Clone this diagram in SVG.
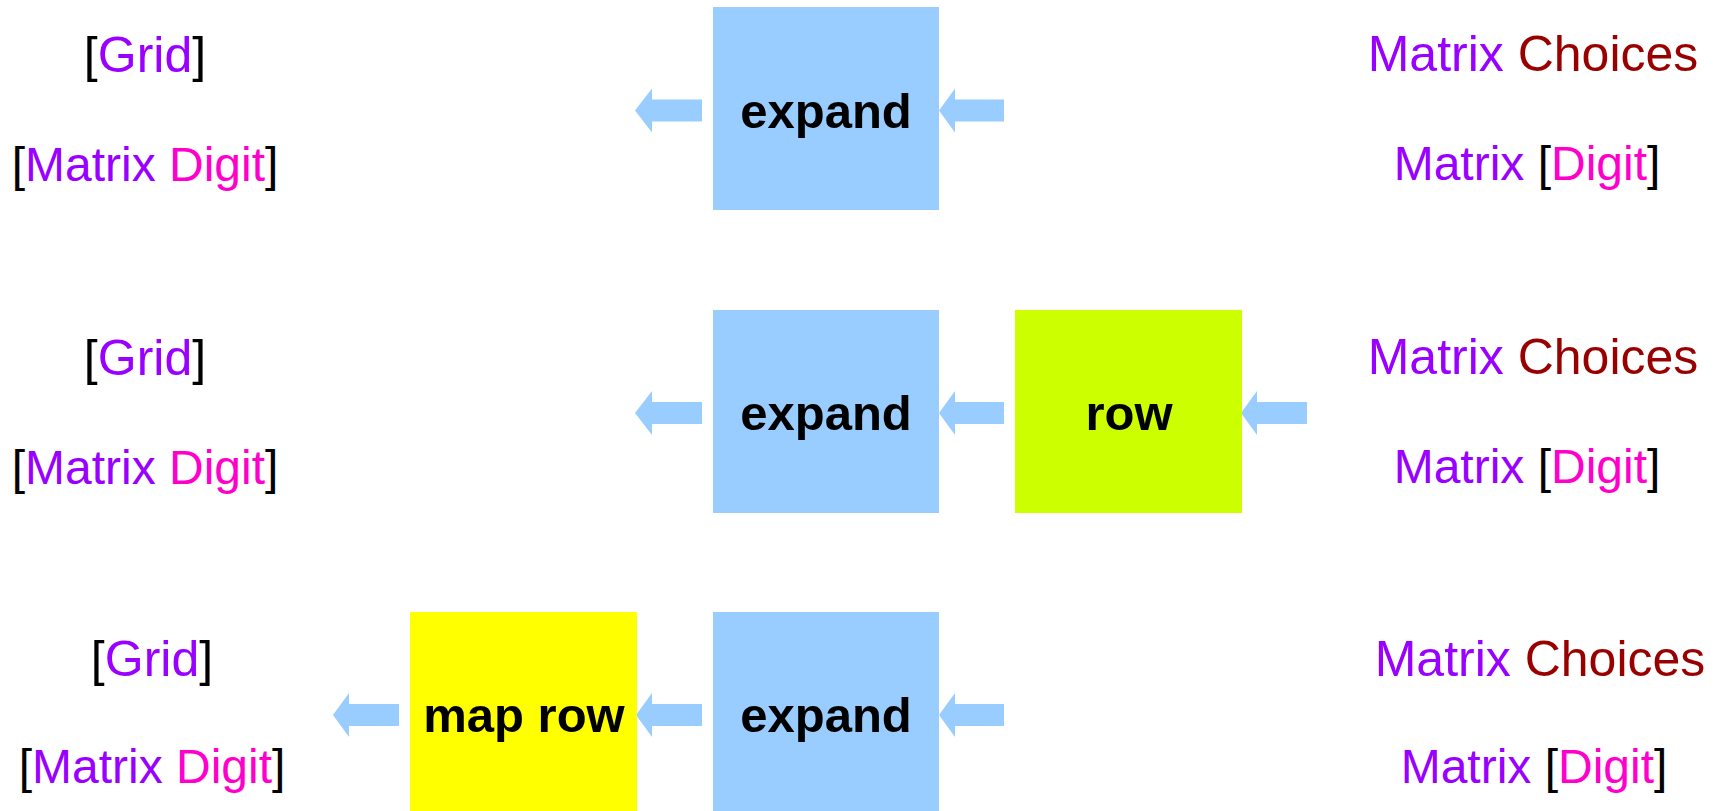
<svg xmlns="http://www.w3.org/2000/svg" width="1715" height="811" viewBox="0 0 1715 811">
<style>
.box-blue{fill:#99ccff}
.box-lime{fill:#ccff00}
.box-yellow{fill:#ffff00}
.lbl{font-family:"Liberation Sans",Arial,sans-serif;font-weight:bold;font-size:49px;fill:#000;text-anchor:middle}
.t{font-family:"Liberation Sans",Arial,sans-serif;text-anchor:middle;fill:#000}
.big{font-size:50px}
.sm{font-size:48px}
.pu{fill:#9900ff}
.dr{fill:#990000}
.mg{fill:#ff00cc}
.arr{fill:#99ccff}
</style>
<rect width="1715" height="811" fill="#fff"/>
<g id="connectors">
<polygon class="arr" points="635,110.5 652,88.5 652,99.5 702,99.5 702,121.5 652,121.5 652,132.5"/>
<polygon class="arr" points="939,110.5 955,88.5 955,99.5 1004,99.5 1004,121.5 955,121.5 955,132.5"/>
<polygon class="arr" points="635,413 652,391 652,402 702,402 702,424 652,424 652,435"/>
<polygon class="arr" points="939,413 955,391 955,402 1004,402 1004,424 955,424 955,435"/>
<polygon class="arr" points="1241,413 1257,391 1257,402 1307,402 1307,424 1257,424 1257,435"/>
<polygon class="arr" points="333,715 349,693 349,704 399,704 399,726 349,726 349,737"/>
<polygon class="arr" points="636,715 652,693 652,704 702,704 702,726 652,726 652,737"/>
<polygon class="arr" points="939,715 955,693 955,704 1004,704 1004,726 955,726 955,737"/>
</g>
<g id="expand1"><rect class="box-blue" x="713" y="7" width="226" height="203"/><text class="lbl" x="826" y="128">expand</text></g>
<g id="expand2"><rect class="box-blue" x="713" y="310" width="226" height="203"/><text class="lbl" x="826" y="430">expand</text></g>
<g id="row2"><rect class="box-lime" x="1015" y="310" width="227" height="203"/><text class="lbl" x="1129" y="430">row</text></g>
<g id="expand3"><rect class="box-blue" x="713" y="612" width="226" height="203"/><text class="lbl" x="826" y="732">expand</text></g>
<g id="maprow3"><rect class="box-yellow" x="410" y="612" width="227" height="203"/><text class="lbl" x="524" y="732">map row</text></g>
<g id="out1">
<text class="t big" x="145" y="72">[<tspan class="pu">Grid</tspan>]</text>
<text class="t sm" x="145" y="181">[<tspan class="pu">Matrix</tspan> <tspan class="mg">Digit</tspan>]</text>
</g>
<g id="in1">
<text class="t big" x="1533" y="71"><tspan class="pu">Matrix</tspan> <tspan class="dr">Choices</tspan></text>
<text class="t sm" x="1527" y="180"><tspan class="pu">Matrix</tspan> [<tspan class="mg">Digit</tspan>]</text>
</g>
<g id="out2">
<text class="t big" x="145" y="375">[<tspan class="pu">Grid</tspan>]</text>
<text class="t sm" x="145" y="484">[<tspan class="pu">Matrix</tspan> <tspan class="mg">Digit</tspan>]</text>
</g>
<g id="in2">
<text class="t big" x="1533" y="374"><tspan class="pu">Matrix</tspan> <tspan class="dr">Choices</tspan></text>
<text class="t sm" x="1527" y="483"><tspan class="pu">Matrix</tspan> [<tspan class="mg">Digit</tspan>]</text>
</g>
<g id="out3">
<text class="t big" x="152" y="676">[<tspan class="pu">Grid</tspan>]</text>
<text class="t sm" x="152" y="783">[<tspan class="pu">Matrix</tspan> <tspan class="mg">Digit</tspan>]</text>
</g>
<g id="in3">
<text class="t big" x="1540" y="676"><tspan class="pu">Matrix</tspan> <tspan class="dr">Choices</tspan></text>
<text class="t sm" x="1534" y="783"><tspan class="pu">Matrix</tspan> [<tspan class="mg">Digit</tspan>]</text>
</g>
</svg>
